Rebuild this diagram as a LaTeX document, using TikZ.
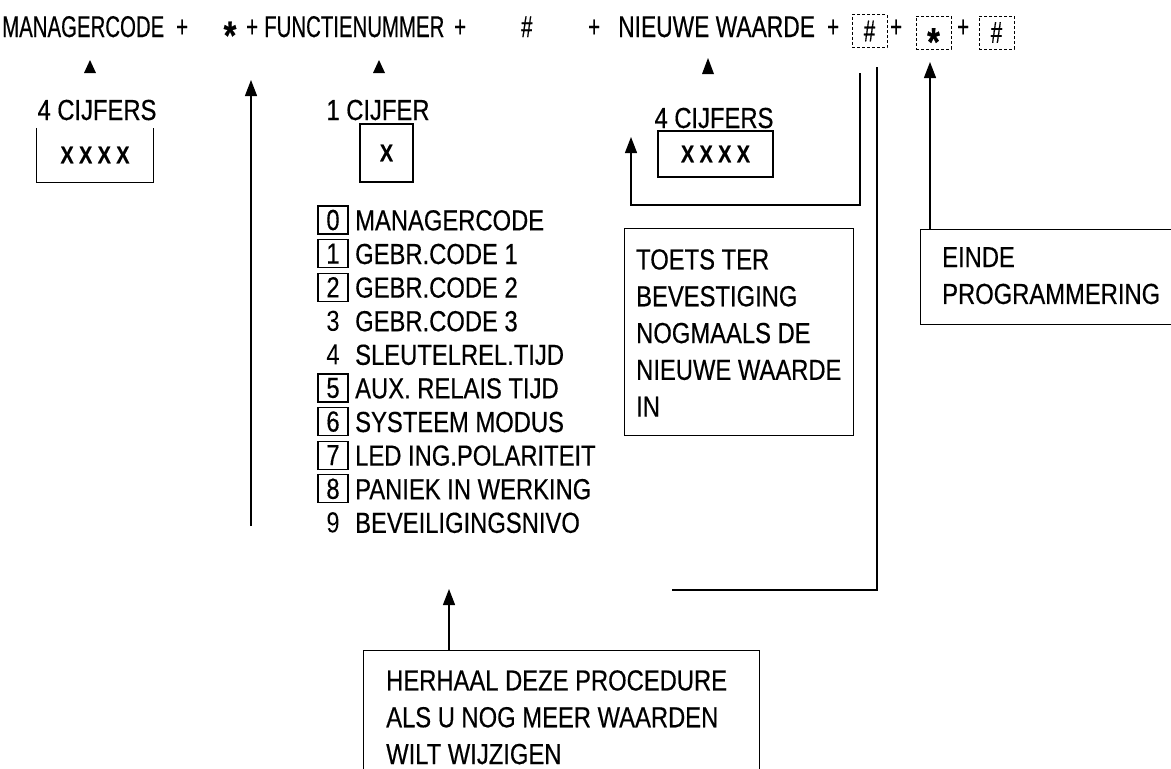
\documentclass[tikz,border=0pt]{standalone}
\usepackage{fontspec}
\setmainfont{Liberation Sans}[FakeStretch=0.82,FakeBold=0.4]
\newfontfamily\topfont{Liberation Sans}[FakeStretch=0.68,FakeBold=0.4]
\newfontfamily\topfontw{Liberation Sans}[FakeStretch=0.76,FakeBold=0.4]
\usetikzlibrary{arrows.meta}
\newcommand\mystar{\raisebox{-12.2pt}{\fontsize{40}{40}\selectfont\bfseries *}}
\begin{document}
\begin{tikzpicture}[x=1pt,y=-1pt,
  every node/.style={inner sep=0pt, font=\fontsize{29}{36.8}\selectfont},
  topword/.style={anchor=base west, font=\topfont\fontsize{30}{36}\selectfont},
  symbox/.style={draw, line width=1pt, dash pattern=on 3pt off 2pt, minimum width=35pt, minimum height=33pt, font=\topfont\fontsize{30}{36}\selectfont},
  frame/.style={draw, line width=1.2pt, anchor=north west},
  numbox/.style={draw, line width=1.2pt, minimum width=30pt, minimum height=28pt},
  xfont/.style={font=\bfseries\fontsize{24}{24}\selectfont},
  line/.style={line width=1.3pt},
  arr/.style={line width=1.3pt, -{Triangle[width=12pt,length=16pt]}},
  tri/.style={fill=black}
]
\fill[white] (0,0) rectangle (1171,769);
\useasboundingbox (0,0) rectangle (1171,769);

% top line
\node[topword] (t1) at (2,37) {MANAGERCODE};
\node[topword] (p1) at (176,37) {+};
\node[anchor=base] (star1) at (230,37) {\mystar};
\node[topword] (p2) at (246,37) {+};
\node[topword] (t2) at (264,37) {FUNCTIENUMMER};
\node[topword] (p3) at (454,37) {+};
\node[topword] (hs) at (521,37) {\#};
\node[topword] (p4) at (588,37) {+};
\node[topword, font=\topfontw\fontsize{30}{36}\selectfont] (t3) at (618,37) {NIEUWE WAARDE};
\node[topword] (p5) at (827,37) {+};
\node[symbox] (hb1) at (869.5,31) {\#};
\node[topword] (p6) at (890,37) {+};
\node[symbox] (sb) at (933.5,32.5) {};
\node[anchor=base] (sbt) at (933.5,43.5) {\mystar};
\node[topword] (p7) at (957,37) {+};
\node[symbox] (hb2) at (996.5,32.5) {\#};

% little triangles
\fill[tri] (84,73) -- (96,73) -- (90,60) -- cycle;
\fill[tri] (373,73) -- (385,73) -- (379,60) -- cycle;
\fill[tri] (702,74) -- (714,74) -- (708,58) -- cycle;

% left 4 cijfers
\node[anchor=base] (c4l) at (97,120) {4 CIJFERS};
\node[minimum width=116pt, minimum height=54pt, xfont] (xl) at (95,155) {X X X X};
\draw[line] (xl.north west) -- (xl.south west) -- (xl.south east) -- (xl.north east);

% 1 cijfer
\node[anchor=base] (c1) at (378,120) {1 CIJFER};
\node[draw, line width=1.2pt, minimum width=53pt, minimum height=58pt, xfont] (x1) at (386.5,153) {X};

% right 4 cijfers
\node[anchor=base] (c4r) at (714,128) {4 CIJFERS};
\node[draw, line width=1.2pt, minimum width=115pt, minimum height=46pt, xfont] (xr) at (715.5,154) {X X X X};

% list
\foreach \i/\n/\t/\b in {0/0/MANAGERCODE/1,1/1/GEBR.CODE 1/1,2/2/GEBR.CODE 2/1,3/3/GEBR.CODE 3/0,4/4/SLEUTELREL.TIJD/0,5/5/AUX. RELAIS TIJD/1,6/6/SYSTEEM MODUS/1,7/7/LED ING.POLARITEIT/1,8/8/PANIEK IN WERKING/1,9/9/BEVEILIGINGSNIVO/0}{
  \pgfmathsetmacro\yc{220+33.6*\i}
  \node[numbox, draw opacity=\b] (n\i) at (333,\yc) {\n};
  \node[anchor=base west] (l\i) at (355,\yc+10.4) {\t};
}

% boxes with text
\node[frame, minimum width=229pt, minimum height=207pt] (toets) at (624,228) {};
\node[anchor=north west, align=left] (toetst) at (636,249) {TOETS TER\\BEVESTIGING\\NOGMAALS DE\\NIEUWE WAARDE\\IN};

\node[frame, minimum width=252pt, minimum height=95pt] (einde) at (920,229) {};
\node[anchor=north west, align=left] (eindet) at (942,247) {EINDE\\PROGRAMMERING};

\node[frame, minimum width=396pt, minimum height=160pt] (herh) at (363,650) {};
\node[anchor=north west, align=left] (herht) at (386,670) {HERHAAL DEZE PROCEDURE\\ALS U NOG MEER WAARDEN\\WILT WIJZIGEN};

% connectors
\coordinate (la) at (251,80);
\coordinate (lb) at (251,526);
\draw[arr] (lb) -- (la);

\coordinate (ca) at (631,137);
\draw[arr] ([xshift=-9.5pt,yshift=-25pt]hb1.south) |- (631,205) -- (ca);

\coordinate (cb) at (672,590);
\draw[line] ([xshift=7.5pt,yshift=-19pt]hb1.south) |- (cb);

\draw[arr] (einde.north -| 930,0) -- (930,62);
\draw[arr] ([xshift=86pt]herh.north west) -- ++(0,-61);
\end{tikzpicture}
\end{document}
